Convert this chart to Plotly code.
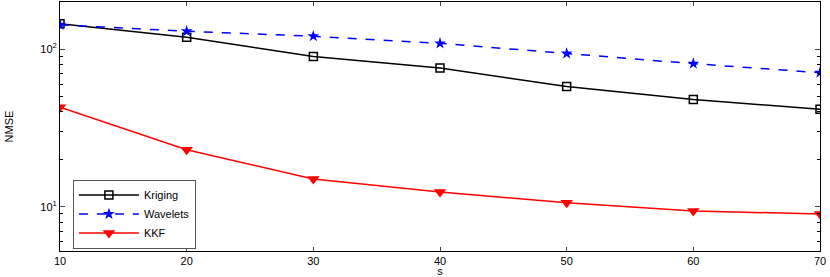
import plotly.graph_objects as go

# sensor count s vs NMSE
s_vals = [10, 20, 30, 40, 50, 60, 70]
kriging = [145, 119, 90, 76, 58, 48, 41.6]
wavelets = [143, 130, 121, 109, 94, 81, 71]
kkf = [42.8, 23, 15, 12.4, 10.6, 9.4, 9.0]

y_tick_vals = [10, 100]
y_tick_text = ["10<sup>1</sup>", "10<sup>2</sup>"]
y_minor_vals = [6, 7, 8, 9, 20, 30, 40, 50, 60, 70, 80, 90, 200]

font = dict(family="Liberation Sans, Arial, sans-serif", size=11, color="black")

fig = go.Figure()
fig.add_trace(go.Scatter(
    x=s_vals, y=kriging, name="Kriging", mode="lines+markers",
    line=dict(color="black", width=1.5),
    marker=dict(symbol="square-open", size=8, color="black", line=dict(width=1.5)),
))
fig.add_trace(go.Scatter(
    x=s_vals, y=wavelets, name="Wavelets", mode="lines+markers",
    line=dict(color="blue", width=1.5, dash="dash"),
    marker=dict(symbol="star", size=9, color="blue"),
))
fig.add_trace(go.Scatter(
    x=s_vals, y=kkf, name="KKF", mode="lines+markers",
    line=dict(color="red", width=1.5),
    marker=dict(symbol="triangle-down", size=11, color="red"),
))

fig.update_layout(
    width=830, height=277,
    margin=dict(l=60, r=10, t=1, b=24),
    paper_bgcolor="white", plot_bgcolor="white",
    font=font,
    legend=dict(
        x=0.017, y=0.01, xanchor="left", yanchor="bottom",
        bordercolor="#555", borderwidth=1, bgcolor="white",
        font=dict(size=11), tracegroupgap=0, itemwidth=60,
        entrywidth=140,
    ),
)
fig.update_xaxes(
    range=[10, 70], tickvals=[10, 20, 30, 40, 50, 60, 70],
    ticks="inside", ticklen=4, showgrid=False, zeroline=False,
    showline=True, linecolor="black", linewidth=1, mirror="ticks",
    ticklabeloverflow="allow",
    title=dict(text="s", standoff=1, font=dict(size=11)),
)
fig.update_yaxes(
    type="log", range=[0.719, 2.3],
    tickvals=y_tick_vals, ticktext=y_tick_text,
    ticks="inside", ticklen=5, showgrid=False, zeroline=False,
    showline=True, linecolor="black", linewidth=1, mirror="ticks",
    minor=dict(tickvals=y_minor_vals, ticks="inside", ticklen=3, tickcolor="black"),
    title=dict(text="NMSE", standoff=24, font=dict(size=11)),
)

# default page body has an 8px margin; drop it so the figure fills the window
fig.write_html(
    "out.html",
    config={"displayModeBar": False},
    post_script="document.body.style.margin='0';",
)
